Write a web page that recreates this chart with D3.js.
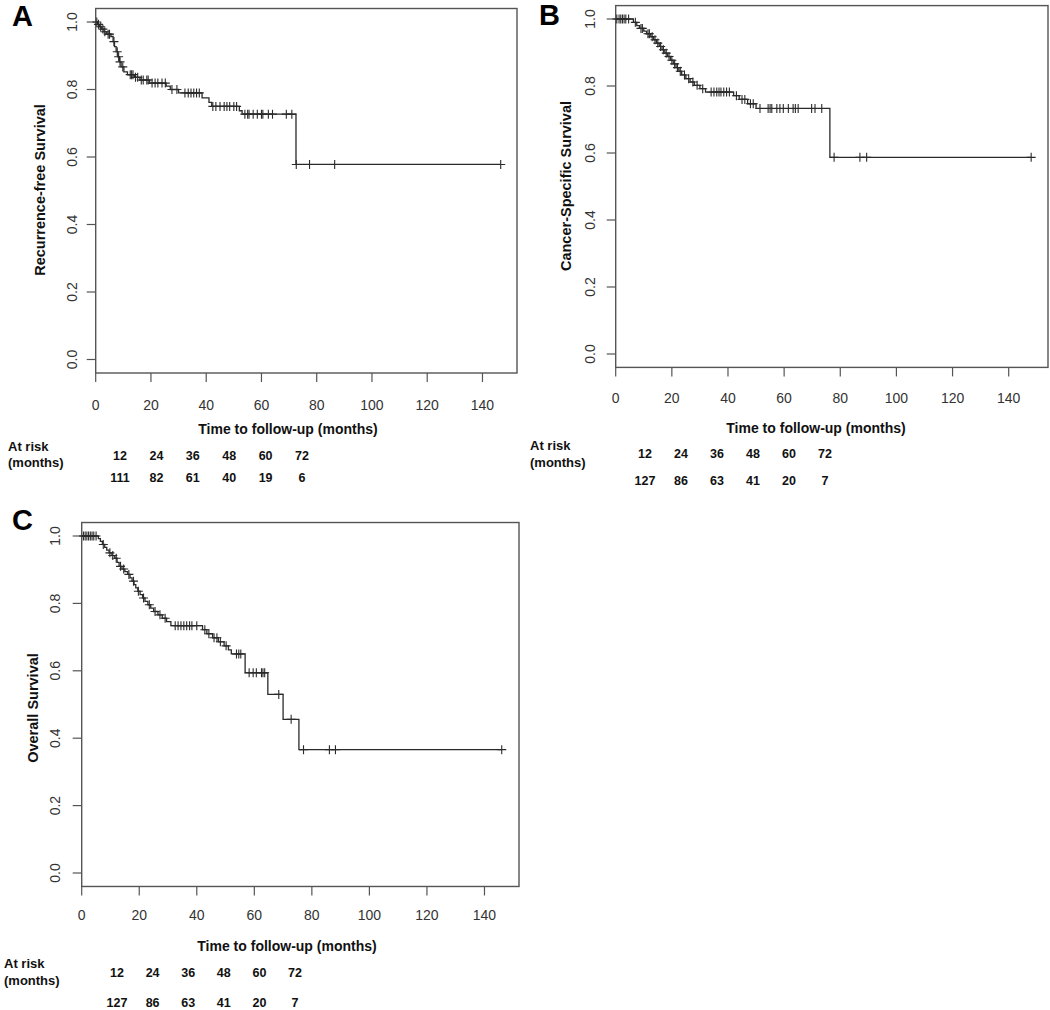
<!DOCTYPE html>
<html><head><meta charset="utf-8">
<script src="https://cdn.jsdelivr.net/npm/d3@7"></script>
<style>
body{margin:0;background:#fff}
svg{display:block}
text{font-family:"Liberation Sans",Arial,Helvetica,sans-serif;fill:#111}
</style>
</head><body>
<svg id="c" width="1050" height="1010"></svg>
<script>
// ---------------- DATA ----------------
const xTickValues = [0, 20, 40, 60, 80, 100, 120, 140];
const yTickValues = [0.0, 0.2, 0.4, 0.6, 0.8, 1.0];
const riskMonths = [12, 24, 36, 48, 60, 72];

// Panel A: Recurrence-free survival
const rfsEventTimes = [0.7,1.4,2.2,3.0,4.0,5.5,6.3,6.8,7.4,8.0,8.6,9.2,10.2,11.5,14.0,16.0,19.5,25.5,27.0,30.0,38.5,41.0,42.0,52.0,53.0,72.5];
const rfsSurvival   = [0.993,0.986,0.979,0.971,0.964,0.957,0.942,0.927,0.912,0.897,0.882,0.867,0.852,0.844,0.836,0.828,0.819,0.810,0.800,0.790,0.775,0.762,0.750,0.737,0.727,0.578];
const rfsCensorTimes = [0.4,1.0,1.8,2.6,3.3,4.5,5.0,6.6,7.8,8.3,8.8,9.8,12.5,13.0,13.5,14.4,15.2,16.5,17.2,18.5,19.0,20.4,21.5,22.5,24.0,25.2,27.6,29.4,32.3,33.5,34.5,35.5,36.5,37.5,42.4,43.5,45.0,46.5,47.5,48.5,50.0,51.0,54.0,55.0,55.5,57.0,58.5,60.0,60.5,62.5,64.0,69.0,71.0,72.6,77.4,86.5,146.6];
const rfsAtRisk = [111, 82, 61, 40, 19, 6];

// Panel B: Cancer-specific survival
const cssEventTimes = [6.3,7.5,8.5,10.0,11.0,12.5,13.5,14.5,15.5,16.5,17.5,18.5,19.5,20.5,21.5,22.5,23.5,25.0,26.5,28.0,30.0,32.0,42.0,44.0,47.0,50.0,76.3];
const cssSurvival   = [0.990,0.980,0.972,0.964,0.956,0.947,0.938,0.928,0.918,0.908,0.898,0.888,0.877,0.866,0.855,0.844,0.833,0.822,0.812,0.802,0.792,0.782,0.771,0.760,0.747,0.733,0.587];
const cssCensorTimes = [0.4,1.2,1.8,2.4,3.0,3.6,4.6,7.0,9.0,9.5,11.5,12.0,13.0,14.0,15.0,16.0,17.0,18.0,19.0,20.0,21.0,22.0,23.0,24.5,26.0,27.5,29.0,31.0,34.0,35.0,36.0,36.8,37.5,38.5,39.5,40.5,43.0,45.0,46.0,48.0,49.0,51.4,54.3,55.0,55.6,57.4,58.5,59.7,61.5,63.2,64.0,65.0,69.8,71.0,73.4,77.8,87.0,89.4,148.0];
const cssAtRisk = [127, 86, 63, 41, 20, 7];

// Panel C: Overall survival
const osEventTimes = [5.8,6.5,7.2,8.0,8.7,9.5,10.5,11.5,12.3,13.0,14.0,15.0,16.0,16.8,17.5,18.2,18.8,19.5,20.3,21.2,22.0,23.0,24.0,25.0,26.5,28.0,29.5,31.0,42.0,43.5,45.5,47.5,49.5,51.0,52.0,56.8,64.7,70.0,75.5];
const osSurvival   = [0.992,0.984,0.975,0.966,0.958,0.950,0.942,0.934,0.922,0.910,0.902,0.894,0.886,0.876,0.866,0.856,0.846,0.836,0.826,0.816,0.806,0.796,0.786,0.776,0.766,0.756,0.746,0.734,0.722,0.710,0.698,0.686,0.674,0.662,0.650,0.594,0.530,0.456,0.366];
const osCensorTimes = [0.6,1.2,1.8,2.4,3.0,3.6,4.2,5.0,7.5,9.8,10.8,12.0,13.5,14.6,16.4,18.0,19.7,21.5,23.5,25.5,27.2,29.0,32.5,33.5,34.5,35.5,36.5,37.5,38.3,40.0,42.8,44.2,46.0,47.0,48.2,50.2,53.8,54.6,55.3,58.2,59.6,60.7,62.5,63.0,63.6,68.5,72.8,77.1,86.1,88.2,146.0];
const osAtRisk = [127, 86, 63, 41, 20, 7];

// ---------------- LAYOUT ----------------
const panels = [
  {letter:"A", lx:12, ly:26, ytitle:"Recurrence-free Survival",
   times:rfsEventTimes, surv:rfsSurvival, cens:rfsCensorTimes, risk:rfsAtRisk,
   left:95.7, right:517, y0:359.5, y1:22, xMax:152.5,
   yLabX:72, yTitleX:40, yTitleY:190, xLabY:410,
   xTitleX:288, xTitleY:434, riskLabelX:8, riskY1:451, riskY2:467, rowY1:460, rowY2:482,
   riskX12:120, riskX72:302},
  {letter:"B", lx:539, ly:25, ytitle:"Cancer-Specific Survival",
   times:cssEventTimes, surv:cssSurvival, cens:cssCensorTimes, risk:cssAtRisk,
   left:615.7, right:1048, y0:354, y1:19, xMax:154,
   yLabX:590, yTitleX:566, yTitleY:186, xLabY:403,
   xTitleX:816, xTitleY:433, riskLabelX:530, riskY1:450, riskY2:467, rowY1:458, rowY2:485,
   riskX12:645, riskX72:825},
  {letter:"C", lx:12, ly:530, ytitle:"Overall Survival",
   times:osEventTimes, surv:osSurvival, cens:osCensorTimes, risk:osAtRisk,
   left:81.7, right:519, y0:873, y1:536, xMax:152,
   yLabX:55, yTitleX:33, yTitleY:708, xLabY:920,
   xTitleX:287, xTitleY:951, riskLabelX:4, riskY1:968, riskY2:985, rowY1:977, rowY2:1007,
   riskX12:117, riskX72:295}
];

const svg = d3.select("#c");
const lineCol = "#2a2a2a";
const boxCol = "#555";

function survAt(times, surv, t){
  let s = 1;
  for (let i = 0; i < times.length; i++){ if (times[i] <= t) s = surv[i]; }
  return s;
}

panels.forEach(p => {
  const x = d3.scaleLinear().domain([0, p.xMax]).range([p.left, p.right]);
  const y = d3.scaleLinear().domain([0, 1]).range([p.y0, p.y1]);
  const g = svg.append("g");

  // box
  g.append("rect")
    .attr("x", x(0)).attr("y", y(1.04))
    .attr("width", x(p.xMax) - x(0)).attr("height", y(-0.04) - y(1.04))
    .attr("fill", "none").attr("stroke", boxCol).attr("stroke-width", 1.4);

  // x axis
  const xb = y(-0.04);
  xTickValues.forEach(v => {
    g.append("line").attr("x1", x(v)).attr("x2", x(v)).attr("y1", xb).attr("y2", xb + 9)
      .attr("stroke", boxCol).attr("stroke-width", 1.2);
    g.append("text").attr("x", x(v)).attr("y", p.xLabY).attr("text-anchor", "middle")
      .attr("font-size", 14).style("fill", "#333").text(v);
  });
  // y axis
  yTickValues.forEach(v => {
    g.append("line").attr("x1", p.left).attr("x2", p.left - 9).attr("y1", y(v)).attr("y2", y(v))
      .attr("stroke", boxCol).attr("stroke-width", 1.2);
    g.append("text").attr("transform", `translate(${p.yLabX},${y(v)}) rotate(-90)`)
      .attr("text-anchor", "middle").attr("dy", "0.35em")
      .attr("font-size", 14).style("fill", "#333").text(v.toFixed(1));
  });

  // titles
  g.append("text").attr("transform", `translate(${p.yTitleX},${p.yTitleY}) rotate(-90)`)
    .attr("text-anchor", "middle").attr("dy", "0.35em")
    .attr("font-size", 14.5).attr("font-weight", "bold").text(p.ytitle);
  g.append("text").attr("x", p.xTitleX).attr("y", p.xTitleY).attr("text-anchor", "middle")
    .attr("font-size", 14).attr("font-weight", "bold").text("Time to follow-up (months)");
  g.append("text").attr("x", p.lx).attr("y", p.ly).attr("font-size", 29)
    .attr("font-weight", "bold").style("fill", "#000").text(p.letter);

  // survival curve
  const last = p.cens[p.cens.length - 1];
  const pts = [[0, 1]].concat(p.times.map((t, i) => [t, p.surv[i]]));
  pts.push([last, p.surv[p.surv.length - 1]]);
  const line = d3.line().x(d => x(d[0])).y(d => y(d[1])).curve(d3.curveStepAfter);
  g.append("path").attr("d", line(pts)).attr("fill", "none")
    .attr("stroke", lineCol).attr("stroke-width", 1.3);

  // censor marks (+)
  const h = 4.5;
  p.cens.forEach(t => {
    const cx = x(t), cy = y(survAt(p.times, p.surv, t));
    g.append("path").attr("d", `M${cx - h},${cy}H${cx + h}M${cx},${cy - h}V${cy + h}`)
      .attr("stroke", lineCol).attr("stroke-width", 1.1).attr("fill", "none");
  });

  // at-risk table
  const rx = d3.scaleLinear().domain([12, 72]).range([p.riskX12, p.riskX72]);
  g.append("text").attr("x", p.riskLabelX).attr("y", p.riskY1).attr("font-size", 13)
    .attr("font-weight", "bold").text("At risk");
  g.append("text").attr("x", p.riskLabelX).attr("y", p.riskY2).attr("font-size", 13)
    .attr("font-weight", "bold").text("(months)");
  riskMonths.forEach((m, i) => {
    g.append("text").attr("x", rx(m)).attr("y", p.rowY1).attr("text-anchor", "middle")
      .attr("font-size", 12.5).attr("font-weight", "bold").text(m);
    g.append("text").attr("x", rx(m)).attr("y", p.rowY2).attr("text-anchor", "middle")
      .attr("font-size", 12.5).attr("font-weight", "bold").text(p.risk[i]);
  });
});
</script>
</body></html>
